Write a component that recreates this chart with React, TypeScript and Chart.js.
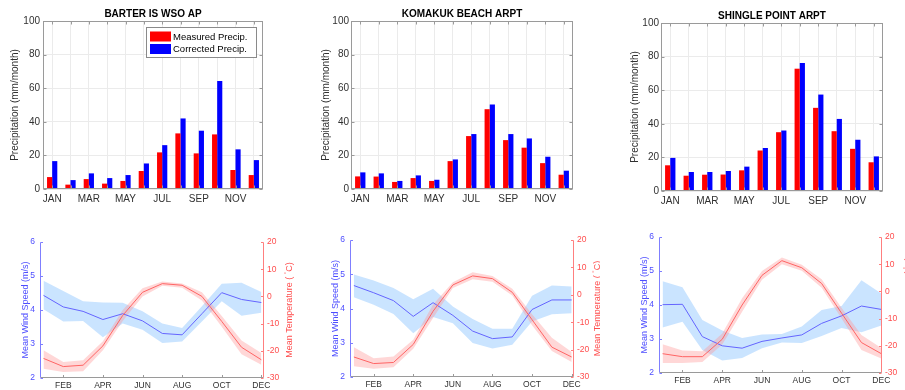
import { useEffect, useRef } from "react";
import { Chart, registerables } from "chart.js";

Chart.register(...registerables);

const FONT = "'Liberation Sans', Arial, Helvetica, sans-serif";

const MONTHS = ["JAN", "FEB", "MAR", "APR", "MAY", "JUN", "JUL", "AUG", "SEP", "OCT", "NOV", "DEC"];
const PRECIP_TICKS = [0, 20, 40, 60, 80, 100];
const WIND_TICKS = [2, 3, 4, 5, 6];
const TEMP_TICKS = [-30, -20, -10, 0, 10, 20];
const CLIMATE_MONTH_TICKS = [2, 4, 6, 8, 10, 12];

// Monthly precipitation (mm/month)
const barterMeasured = [7.1, 2.6, 5.9, 3.2, 4.8, 10.7, 21.8, 33.1, 21.2, 32.5, 11.3, 8.3];
const barterCorrected = [16.6, 5.3, 9.3, 6.5, 8.3, 15.2, 26.1, 42.0, 34.7, 64.3, 23.6, 17.2];
const komakukMeasured = [7.5, 7.4, 4.2, 6.5, 4.8, 16.6, 31.5, 47.5, 29.1, 24.6, 15.4, 8.5];
const komakukCorrected = [9.9, 9.3, 4.8, 8.1, 5.5, 17.6, 32.7, 50.3, 32.7, 30.1, 19.2, 10.9];
const shingleMeasured = [15.3, 9.1, 9.7, 9.8, 12.3, 24.1, 35.0, 72.8, 49.5, 35.6, 25.1, 17.1];
const shingleCorrected = [19.7, 11.3, 11.3, 11.9, 14.5, 25.6, 36.0, 76.2, 57.4, 42.9, 30.5, 20.6];

// Mean wind speed (m/s) with its spread
const barterWind = [4.43, 4.09, 3.96, 3.72, 3.89, 3.68, 3.31, 3.27, 3.89, 4.51, 4.31, 4.22];
const barterWindHi = [4.86, 4.56, 4.26, 4.22, 4.21, 3.96, 3.6, 3.47, 4.11, 4.77, 4.8, 4.53];
const barterWindLo = [4.02, 3.66, 3.68, 3.2, 3.6, 3.42, 3.03, 3.07, 3.66, 4.26, 3.83, 3.92];
const komakukWind = [4.67, 4.46, 4.23, 3.77, 4.17, 3.8, 3.34, 3.12, 3.17, 3.97, 4.25, 4.25];
const komakukWindHi = [4.99, 4.82, 4.6, 4.27, 4.58, 4.06, 3.69, 3.41, 3.41, 4.37, 4.67, 4.64];
const komakukWindLo = [4.33, 4.11, 3.84, 3.28, 3.75, 3.57, 2.99, 2.83, 2.94, 3.62, 3.83, 3.86];
const shingleWind = [4.01, 4.02, 3.07, 2.8, 2.73, 2.93, 3.03, 3.12, 3.46, 3.68, 3.97, 3.87];
const shingleWindHi = [4.7, 4.52, 3.56, 3.25, 3.03, 3.13, 3.15, 3.37, 3.85, 3.97, 4.73, 4.34];
const shingleWindLo = [3.34, 3.51, 2.68, 2.37, 2.44, 2.73, 2.9, 2.88, 3.09, 3.32, 3.2, 3.4];

// Mean air temperature (°C) with its spread
const barterTemp = [-22.8, -25.8, -25.3, -18.2, -7.0, 1.5, 4.7, 4.1, 0.0, -9.2, -18.7, -23.3];
const barterTempHi = [-19.8, -24.1, -23.5, -16.5, -5.0, 3.0, 5.5, 4.7, 1.5, -7.2, -16.2, -20.8];
const barterTempLo = [-26.6, -27.8, -27.5, -19.8, -9.0, 0.0, 3.9, 3.2, -1.5, -11.2, -21.3, -25.1];
const komakukTemp = [-22.7, -25.1, -24.7, -18.1, -6.0, 3.6, 6.9, 5.9, 0.9, -9.1, -19.1, -22.7];
const komakukTempHi = [-19.1, -23.2, -22.5, -16.4, -3.5, 4.6, 8.2, 6.9, 2.2, -7.1, -15.7, -20.9];
const komakukTempLo = [-26.1, -27.0, -26.4, -19.7, -8.5, 2.5, 5.7, 4.8, -0.3, -11.1, -20.5, -24.5];
const shingleTemp = [-22.9, -24.0, -24.0, -17.6, -5.0, 5.9, 11.3, 8.7, 2.9, -8.0, -18.8, -22.9];
const shingleTempHi = [-19.4, -21.7, -22.0, -15.5, -2.5, 7.5, 12.5, 9.8, 4.5, -6.0, -16.0, -20.8];
const shingleTempLo = [-26.3, -26.3, -26.0, -19.5, -7.5, 4.3, 10.0, 7.6, 1.3, -10.0, -21.5, -24.7];

const TICK_TEXT = "#303030";
const FRAME = "#9a9a9a";
const GRID = "#ebebeb";
const WIND_AXIS = "#4d4dff";
const TEMP_AXIS = "#ff4d4d";
const WIND_LINE = "#6464ff";
const TEMP_LINE = "#ff6464";
const WIND_BAND = "rgba(153, 204, 255, 0.52)";
const TEMP_BAND = "rgba(255, 150, 150, 0.38)";

type Area = { l: number; t: number; r: number; b: number };

type PrecipProps = {
  name: string;
  measured: number[];
  corrected: number[];
  left: number;
  top: number;
  width: number;
  height: number;
  area: Area;
  labelGap: number;
  tickGap: number;
  legend?: boolean;
};

const px = (v: number) => Math.round(v) + 0.5;

function PrecipPanel(p: PrecipProps) {
  const ref = useRef<HTMLCanvasElement>(null);
  useEffect(() => {
    const canvas = ref.current;
    if (!canvas) return;
    const { l, t, r, b } = p.area;

    const decor = {
      id: "precipDecor",
      afterDraw(chart: any) {
        const ctx = chart.ctx as CanvasRenderingContext2D;
        const a = chart.chartArea;
        const xs = chart.scales.x;
        const ys = chart.scales.y;
        const x0 = px(a.left);
        const x1 = Math.round(a.right) - 0.5;
        const y0 = px(a.top);
        const y1 = Math.round(a.bottom) - 0.5;
        ctx.save();
        ctx.strokeStyle = FRAME;
        ctx.lineWidth = 1;
        ctx.strokeRect(x0, y0, x1 - x0, y1 - y0);
        ctx.beginPath();
        for (const v of PRECIP_TICKS) {
          const yy = px(ys.getPixelForValue(v));
          ctx.moveTo(x0, yy);
          ctx.lineTo(x0 + 3, yy);
          ctx.moveTo(x1, yy);
          ctx.lineTo(x1 - 3, yy);
        }
        for (let i = 0; i < MONTHS.length; i++) {
          const xx = px(xs.getPixelForValue(i));
          ctx.moveTo(xx, y1);
          ctx.lineTo(xx, y1 - 3);
          ctx.moveTo(xx, y0);
          ctx.lineTo(xx, y0 + 3);
        }
        ctx.stroke();

        // station title
        ctx.fillStyle = "#000";
        ctx.font = `bold 10px ${FONT}`;
        ctx.textAlign = "center";
        ctx.textBaseline = "middle";
        ctx.fillText(p.name, (a.left + a.right) / 2, a.top - 7);

        // y axis title
        ctx.save();
        ctx.translate(a.left - p.labelGap, (a.top + a.bottom) / 2);
        ctx.rotate(-Math.PI / 2);
        ctx.fillStyle = TICK_TEXT;
        ctx.font = `10px ${FONT}`;
        ctx.fillText("Precipitation (mm/month)", 0, 0);
        ctx.restore();

        if (p.legend) {
          const bx = a.left + 103;
          const by = a.top + 6;
          ctx.fillStyle = "#fff";
          ctx.fillRect(bx, by, 110, 30);
          ctx.strokeStyle = "#8a8a8a";
          ctx.strokeRect(px(bx), px(by), 110, 30);
          ctx.fillStyle = "#ff0000";
          ctx.fillRect(bx + 4, by + 4.5, 21, 10);
          ctx.fillStyle = "#0000ff";
          ctx.fillRect(bx + 4, by + 17, 21, 10);
          ctx.fillStyle = "#000";
          ctx.font = `9.5px ${FONT}`;
          ctx.textAlign = "left";
          ctx.fillText("Measured Precip.", bx + 27, by + 10);
          ctx.fillText("Corrected Precip.", bx + 27, by + 22.5);
        }
        ctx.restore();
      },
    };

    const chart = new Chart(canvas, {
      type: "bar",
      data: {
        labels: MONTHS,
        datasets: [
          {
            label: "Measured Precip.",
            data: p.measured,
            backgroundColor: "#ff0000",
            categoryPercentage: 0.56,
            barPercentage: 1,
          },
          {
            label: "Corrected Precip.",
            data: p.corrected,
            backgroundColor: "#0000ff",
            categoryPercentage: 0.56,
            barPercentage: 1,
          },
        ],
      },
      options: {
        responsive: false,
        animation: false,
        events: [],
        layout: { padding: { top: t, right: p.width - r, left: 0, bottom: 0 } },
        plugins: { legend: { display: false }, tooltip: { enabled: false } },
        scales: {
          x: {
            type: "category",
            offset: true,
            grid: { offset: false, color: GRID, drawTicks: false },
            border: { display: false },
            ticks: {
              autoSkip: false,
              maxRotation: 0,
              padding: 4,
              color: TICK_TEXT,
              font: { family: FONT, size: 10 },
              callback: (_v: any, i: number) => (i % 2 === 0 ? MONTHS[i] : ""),
            },
            afterFit: (s: any) => {
              s.height = p.height - b;
            },
          },
          y: {
            min: 0,
            max: 100,
            grid: { color: GRID, drawTicks: false },
            border: { display: false },
            ticks: { padding: p.tickGap, color: TICK_TEXT, font: { family: FONT, size: 10 } },
            afterBuildTicks: (s: any) => {
              s.ticks = PRECIP_TICKS.map((v) => ({ value: v }));
            },
            afterFit: (s: any) => {
              s.width = l;
            },
          },
        },
      } as any,
      plugins: [decor],
    });
    return () => chart.destroy();
  }, []);
  return (
    <canvas
      ref={ref}
      width={p.width}
      height={p.height}
      style={{ position: "absolute", left: p.left, top: p.top, width: p.width, height: p.height }}
    />
  );
}

type ClimateProps = {
  wind: number[];
  windHi: number[];
  windLo: number[];
  temp: number[];
  tempHi: number[];
  tempLo: number[];
  left: number;
  top: number;
  width: number;
  height: number;
  area: Area;
  xMin: number;
  xMax: number;
  rightTitleGap: number;
};

function ClimatePanel(p: ClimateProps) {
  const ref = useRef<HTMLCanvasElement>(null);
  useEffect(() => {
    const canvas = ref.current;
    if (!canvas) return;
    const { l, t, r, b } = p.area;
    const pts = (vals: number[]) => vals.map((v, i) => ({ x: i + 1, y: v }));

    const decor = {
      id: "climateDecor",
      afterDraw(chart: any) {
        const ctx = chart.ctx as CanvasRenderingContext2D;
        const a = chart.chartArea;
        const xs = chart.scales.x;
        const yw = chart.scales.y;
        const yt = chart.scales.y1;
        const x0 = px(a.left);
        const x1 = Math.round(a.right) - 0.5;
        const y0 = px(a.top);
        const y1 = Math.round(a.bottom) - 0.5;
        ctx.save();
        ctx.lineWidth = 1;

        ctx.strokeStyle = FRAME;
        ctx.beginPath();
        ctx.moveTo(x0, y1);
        ctx.lineTo(x1, y1);
        for (const m of CLIMATE_MONTH_TICKS) {
          const xx = px(xs.getPixelForValue(m));
          ctx.moveTo(xx, y1);
          ctx.lineTo(xx, y1 - 2.5);
        }
        ctx.stroke();

        ctx.strokeStyle = "#7f7fff";
        ctx.beginPath();
        ctx.moveTo(x0, y0);
        ctx.lineTo(x0, y1);
        for (const v of WIND_TICKS) {
          const yy = px(yw.getPixelForValue(v));
          ctx.moveTo(x0, yy);
          ctx.lineTo(x0 + 2.5, yy);
        }
        ctx.stroke();

        ctx.strokeStyle = "#ff7f7f";
        ctx.beginPath();
        ctx.moveTo(x1, y0);
        ctx.lineTo(x1, y1);
        for (const v of TEMP_TICKS) {
          const yy = px(yt.getPixelForValue(v));
          ctx.moveTo(x1, yy);
          ctx.lineTo(x1 - 2.5, yy);
        }
        ctx.stroke();

        const cy = (a.top + a.bottom) / 2;
        ctx.textAlign = "center";
        ctx.textBaseline = "middle";

        // left axis title
        ctx.save();
        ctx.translate(a.left - 14, cy);
        ctx.rotate(-Math.PI / 2);
        ctx.fillStyle = WIND_AXIS;
        ctx.font = `9px ${FONT}`;
        ctx.fillText("Mean Wind Speed (m/s)", 0, 0);
        ctx.restore();

        // right axis title, degree sign raised
        ctx.save();
        ctx.translate(a.right + p.rightTitleGap, cy);
        ctx.rotate(-Math.PI / 2);
        ctx.fillStyle = TEMP_AXIS;
        const partA = "Mean Temperature ( ";
        const partC = "C)";
        ctx.font = `9px ${FONT}`;
        const wA = ctx.measureText(partA).width;
        const wC = ctx.measureText(partC).width;
        ctx.font = `6px ${FONT}`;
        const wB = ctx.measureText("\u00b0").width;
        const total = wA + wB + wC;
        let sx = -total / 2;
        ctx.textAlign = "left";
        ctx.font = `9px ${FONT}`;
        ctx.fillText(partA, sx, 0);
        sx += wA;
        ctx.font = `6px ${FONT}`;
        ctx.fillText("\u00b0", sx, -3.5);
        sx += wB;
        ctx.font = `9px ${FONT}`;
        ctx.fillText(partC, sx, 0);
        ctx.restore();

        ctx.restore();
      },
    };

    const band = { borderColor: "rgba(0,0,0,0)", borderWidth: 0, pointRadius: 0, tension: 0 };
    const chart = new Chart(canvas, {
      type: "line",
      data: {
        datasets: [
          { ...band, data: pts(p.windHi), yAxisID: "y", backgroundColor: WIND_BAND, fill: "+1", order: 4 },
          { ...band, data: pts(p.windLo), yAxisID: "y", fill: false, order: 4 },
          { ...band, data: pts(p.tempHi), yAxisID: "y1", backgroundColor: TEMP_BAND, fill: "+1", order: 3 },
          { ...band, data: pts(p.tempLo), yAxisID: "y1", fill: false, order: 3 },
          {
            data: pts(p.wind),
            yAxisID: "y",
            borderColor: WIND_LINE,
            borderWidth: 1,
            pointRadius: 0,
            fill: false,
            order: 2,
          },
          {
            data: pts(p.temp),
            yAxisID: "y1",
            borderColor: TEMP_LINE,
            borderWidth: 1,
            pointRadius: 0,
            fill: false,
            order: 1,
          },
        ],
      },
      options: {
        responsive: false,
        animation: false,
        events: [],
        layout: { padding: { top: t, right: 0, left: 0, bottom: 0 } },
        plugins: { legend: { display: false }, tooltip: { enabled: false } },
        scales: {
          x: {
            type: "linear",
            min: p.xMin,
            max: p.xMax,
            grid: { display: false, drawTicks: false },
            border: { display: false },
            ticks: {
              padding: 3,
              maxRotation: 0,
              autoSkip: false,
              color: TICK_TEXT,
              font: { family: FONT, size: 8.5 },
              callback: (v: any) => MONTHS[Number(v) - 1] ?? "",
            },
            afterBuildTicks: (s: any) => {
              s.ticks = CLIMATE_MONTH_TICKS.map((v) => ({ value: v }));
            },
            afterFit: (s: any) => {
              s.height = p.height - b;
            },
          },
          y: {
            position: "left",
            min: 2,
            max: 6,
            grid: { display: false, drawTicks: false },
            border: { display: false },
            ticks: { padding: 5, color: WIND_AXIS, font: { family: FONT, size: 8.5 } },
            afterBuildTicks: (s: any) => {
              s.ticks = WIND_TICKS.map((v) => ({ value: v }));
            },
            afterFit: (s: any) => {
              s.width = l;
            },
          },
          y1: {
            position: "right",
            min: -30,
            max: 20,
            grid: { display: false, drawTicks: false },
            border: { display: false },
            ticks: { padding: 3, color: TEMP_AXIS, font: { family: FONT, size: 8.5 } },
            afterBuildTicks: (s: any) => {
              s.ticks = TEMP_TICKS.map((v) => ({ value: v }));
            },
            afterFit: (s: any) => {
              s.width = p.width - r;
            },
          },
        },
      } as any,
      plugins: [decor],
    });
    return () => chart.destroy();
  }, []);
  return (
    <canvas
      ref={ref}
      width={p.width}
      height={p.height}
      style={{ position: "absolute", left: p.left, top: p.top, width: p.width, height: p.height }}
    />
  );
}

export default function App() {
  return (
    <div
      style={{
        position: "absolute",
        left: 0,
        top: 0,
        width: 905,
        height: 390,
        background: "#fff",
        overflow: "hidden",
      }}
    >
      <PrecipPanel
        name="BARTER IS WSO AP"
        measured={barterMeasured}
        corrected={barterCorrected}
        left={0}
        top={0}
        width={300}
        height={210}
        area={{ l: 43, t: 21, r: 263, b: 189 }}
        labelGap={28}
        tickGap={3}
        legend
      />
      <PrecipPanel
        name="KOMAKUK BEACH ARPT"
        measured={komakukMeasured}
        corrected={komakukCorrected}
        left={300}
        top={0}
        width={300}
        height={210}
        area={{ l: 51, t: 21, r: 273, b: 189 }}
        labelGap={25}
        tickGap={2}
      />
      <PrecipPanel
        name="SHINGLE POINT ARPT"
        measured={shingleMeasured}
        corrected={shingleCorrected}
        left={600}
        top={0}
        width={305}
        height={210}
        area={{ l: 61, t: 23, r: 283, b: 191 }}
        labelGap={26}
        tickGap={2}
      />
      <ClimatePanel
        wind={barterWind}
        windHi={barterWindHi}
        windLo={barterWindLo}
        temp={barterTemp}
        tempHi={barterTempHi}
        tempLo={barterTempLo}
        left={0}
        top={210}
        width={300}
        height={180}
        area={{ l: 40, t: 32, r: 264, b: 168 }}
        xMin={0.824}
        xMax={12.134}
        rightTitleGap={26}
      />
      <ClimatePanel
        wind={komakukWind}
        windHi={komakukWindHi}
        windLo={komakukWindLo}
        temp={komakukTemp}
        tempHi={komakukTempHi}
        tempLo={komakukTempLo}
        left={300}
        top={210}
        width={300}
        height={180}
        area={{ l: 50, t: 30, r: 274, b: 167 }}
        xMin={0.805}
        xMax={12.118}
        rightTitleGap={24}
      />
      <ClimatePanel
        wind={shingleWind}
        windHi={shingleWindHi}
        windLo={shingleWindLo}
        temp={shingleTemp}
        tempHi={shingleTempHi}
        tempLo={shingleTempLo}
        left={600}
        top={210}
        width={305}
        height={180}
        area={{ l: 59, t: 27, r: 282, b: 163 }}
        xMin={0.82}
        xMax={12.034}
        rightTitleGap={27}
      />
    </div>
  );
}
